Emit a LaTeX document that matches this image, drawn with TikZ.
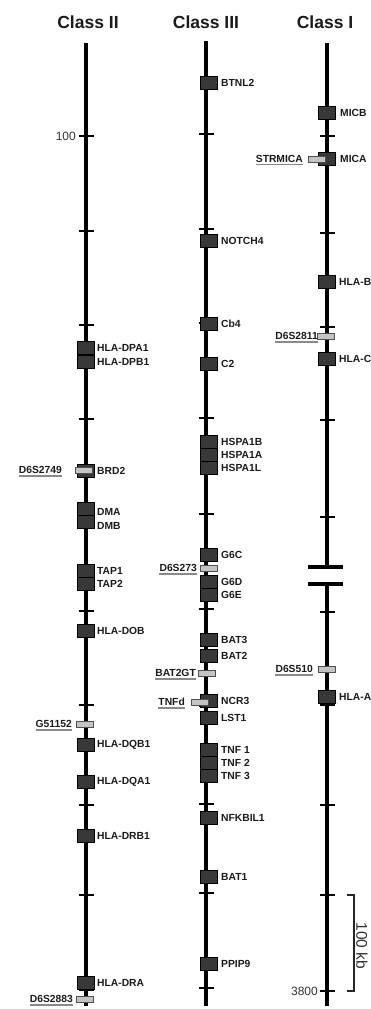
\documentclass[tikz,border=0pt]{standalone}
\usepackage{fontspec}
\setmainfont{Liberation Sans}
\usetikzlibrary{calc}
\definecolor{genefill}{HTML}{383838}
\definecolor{mkfill}{HTML}{C4C4C4}
\definecolor{mkdraw}{HTML}{505050}
\definecolor{ulcol}{HTML}{8A8A8A}
\definecolor{txt}{HTML}{1A1A1A}
\newcommand\gn[6]{% name, box x, box y, label x, label y, text
  \node[gene] (#1) at (#2,#3) {};
  \node[glab] (#1l) at (#4,#5) {#6};}
\newcommand\mk[5]{% name, x, y, label right x, text
  \node[marker] (#1) at (#2,#3) {};
  \node[mlab] (#1l) at (#4,#3) {#5};
  \draw[ul] ($(#1l.south west)+(0,2)$) -- ($(#1l.south east)+(0,2)$);}
\begin{document}
\begin{tikzpicture}[x=1pt,y=-1pt,
  chrom/.style={line width=4pt},
  tickmark/.style={line width=1.8pt},
  gene/.style={draw=black,line width=0.6pt,fill=genefill,minimum width=17pt,minimum height=13pt,inner sep=0pt},
  marker/.style={draw=mkdraw,line width=0.6pt,fill=mkfill,minimum width=17pt,minimum height=6pt,inner sep=0pt},
  glab/.style={anchor=west,inner sep=0pt,text=txt,font=\fontsize{10.3}{12}\selectfont\bfseries},
  mlab/.style={anchor=east,inner sep=0pt,text=txt,font=\fontsize{10.3}{12}\selectfont\bfseries},
  title/.style={anchor=base,inner sep=0pt,text=txt,font=\fontsize{17.5}{20}\selectfont\bfseries},
  ticklab/.style={anchor=east,inner sep=0pt,font=\fontsize{12}{14}\selectfont,text=black!80},
  ul/.style={ulcol,line width=1.3pt},
  breakbar/.style={line width=4.5pt},
  bracket/.style={line width=1.5pt,black!85}
]
\useasboundingbox (0,0) rectangle (371,1009);
% titles
\node[title] (t2) at (88,28) {Class II};
\node[title] (t3) at (206,28) {Class III};
\node[title] (t1) at (325,28) {Class I};
% chromosome lines
\coordinate (c2top) at (86,43);  \coordinate (c2bot) at (86,1006);
\coordinate (c3top) at (206,41); \coordinate (c3bot) at (206,1006);
\coordinate (c1top) at (327,43); \coordinate (c1bra) at (327,567);
\coordinate (c1brb) at (327,584); \coordinate (c1bot) at (327,1006);
\draw[chrom] (c2top) -- (c2bot);
\draw[chrom] (c3top) -- (c3bot);
\draw[chrom] (c1top) -- (c1bra);
\draw[chrom] (c1brb) -- (c1bot);
% break marks
\draw[breakbar] (308,567) -- (343,567);
\draw[breakbar] (308,584) -- (343,584);
% ticks
\foreach \y in {136,231,325,419,515,611,705,805,895,990}
  \draw[tickmark] (78.5,\y) -- (93.5,\y);
\foreach \y in {134,229,323,418,514,609,706,804,893,988}
  \draw[tickmark] (198.5,\y) -- (213.5,\y);
\foreach \y in {136,233,327,420,517,612,705,805,895,991}
  \draw[tickmark] (319.5,\y) -- (334.5,\y);
\node[ticklab] (l100) at (76,136) {100};
\node[ticklab] (l3800) at (318,991) {3800};
% scale bracket
\coordinate (sb1) at (347,895); \coordinate (sb2) at (354,895);
\coordinate (sb3) at (354,991); \coordinate (sb4) at (347,991);
\draw[bracket] (sb1) -- (sb2) -- (sb3) -- (sb4);
\node[rotate=-90,inner sep=0pt,font=\fontsize{15.5}{17}\selectfont,text=black!80] (kb) at (362,946) {100 kb};
% Class II genes
\gn{dpa1}{85.5}{348}{97}{348}{HLA-DPA1}
\gn{dpb1}{85.5}{362}{97}{362}{HLA-DPB1}
\gn{brd2}{85.5}{471}{97}{471}{BRD2}
\gn{dma}{85.5}{509}{97}{512}{DMA}
\gn{dmb}{85.5}{522}{97}{526}{DMB}
\gn{tap1}{85.5}{571}{97}{571}{TAP1}
\gn{tap2}{85.5}{584}{97}{584}{TAP2}
\gn{dob}{85.5}{631}{97}{631}{HLA-DOB}
\gn{dqb1}{85.5}{745}{97}{745}{HLA-DQB1}
\gn{dqa1}{85.5}{782}{97}{782}{HLA-DQA1}
\gn{drb1}{85.5}{836}{97}{836}{HLA-DRB1}
\gn{dra}{85.5}{983}{97}{983}{HLA-DRA}
% Class III genes
\gn{btnl2}{208.5}{83}{221}{83}{BTNL2}
\gn{notch4}{208.5}{241}{221}{241}{NOTCH4}
\gn{cb4}{208.5}{324}{221}{324}{Cb4}
\gn{c2}{208.5}{364}{221}{364}{C2}
\gn{hspb}{208.5}{442}{221}{442}{HSPA1B}
\gn{hspa}{208.5}{455}{221}{455}{HSPA1A}
\gn{hspl}{208.5}{468}{221}{468}{HSPA1L}
\gn{g6c}{208.5}{555}{221}{555}{G6C}
\gn{g6d}{208.5}{582}{221}{582}{G6D}
\gn{g6e}{208.5}{595}{221}{595}{G6E}
\gn{bat3}{208.5}{640}{221}{640}{BAT3}
\gn{bat2}{208.5}{656}{221}{656}{BAT2}
\gn{ncr3}{208.5}{701}{221}{701}{NCR3}
\gn{lst1}{208.5}{718}{221}{718}{LST1}
\gn{tnf1}{208.5}{750}{221}{750}{TNF 1}
\gn{tnf2}{208.5}{763}{221}{763}{TNF 2}
\gn{tnf3}{208.5}{776}{221}{776}{TNF 3}
\gn{nfkbil1}{208.5}{818}{221}{818}{NFKBIL1}
\gn{bat1}{208.5}{877}{221}{877}{BAT1}
\gn{ppip9}{208.5}{964}{221}{964}{PPIP9}
% Class I genes
\gn{micb}{326.5}{113}{340}{113}{MICB}
\gn{mica}{326.5}{159}{340}{159}{MICA}
\gn{hlab}{326.5}{282}{339}{282}{HLA-B}
\gn{hlac}{326.5}{359}{339}{359}{HLA-C}
\gn{hlaa}{326.5}{697}{339}{697}{HLA-A}
% markers
\mk{d6s2749}{83.5}{470}{62}{D6S2749}
\mk{g51152}{84.5}{724}{72}{G51152}
\mk{d6s2883}{84.5}{999}{73}{D6S2883}
\mk{d6s273}{208.5}{568}{197}{D6S273}
\mk{bat2gt}{207}{673}{196}{BAT2GT}
\mk{tnfd}{199.5}{702}{185}{TNFd}
\mk{strmica}{317}{159}{303}{STRMICA}
\mk{d6s2811}{326}{336}{318}{D6S2811}
\mk{d6s510}{327}{669}{313}{D6S510}
\end{tikzpicture}
\end{document}
